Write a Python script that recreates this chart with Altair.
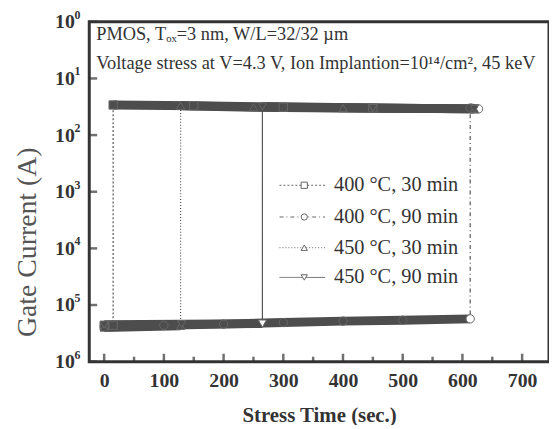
import altair as alt
import pandas as pd

# ---------------- data ----------------
names = ["400 °C, 30 min", "400 °C, 90 min", "450 °C, 30 min", "450 °C, 90 min"]

a_t = [0, 15, 15, 150, 300, 450, 620]
a_i = [4.3e-6, 4.4e-6, 3.4e-2, 3.3e-2, 3.1e-2, 3.0e-2, 2.9e-2]
a_p = ["pre", "pre", "post", "post", "post", "post", "post"]

b_t = [0, 100, 200, 300, 400, 500, 613, 613, 627]
b_i = [4.2e-6, 4.4e-6, 4.6e-6, 4.9e-6, 5.2e-6, 5.4e-6, 5.7e-6, 3.0e-2, 2.9e-2]
b_p = ["pre"] * 7 + ["post"] * 2

c_t = [0, 128, 128, 250, 400, 620]
c_i = [4.0e-6, 4.3e-6, 3.3e-2, 3.1e-2, 3.0e-2, 2.9e-2]
c_p = ["pre", "pre", "post", "post", "post", "post"]

d_t = [0, 130, 265, 265, 450, 620]
d_i = [4.5e-6, 4.6e-6, 4.7e-6, 3.2e-2, 3.0e-2, 2.9e-2]
d_p = ["pre", "pre", "pre", "post", "post", "post"]

# markers that stand out (open, white) in the picture: (series, time, phase)
open_marks = [("400 °C, 90 min", 613, "pre"), ("400 °C, 90 min", 627, "post"),
              ("450 °C, 90 min", 265, "pre")]

x_major = [0, 100, 200, 300, 400, 500, 600, 700]
x_minor = [50, 150, 250, 350, 450, 550, 650]
y_ticks = [1e-6, 1e-5, 1e-4, 1e-3, 1e-2, 1e-1, 1e0]
y_exp = ["6", "5", "4", "3", "2", "1", "0"]   # exponents as printed on the scan

line1 = "PMOS, Tₒₓ=3 nm, W/L=32/32 µm"
line2 = "Voltage stress at V=4.3 V, Ion Implantion=10¹⁴/cm², 45 keV"

rows = []
for nm, ts, cs, ps in zip(names, [a_t, b_t, c_t, d_t], [a_i, b_i, c_i, d_i], [a_p, b_p, c_p, d_p]):
    for k, (t, c, p) in enumerate(zip(ts, cs, ps)):
        rows.append({"t": t, "I": c, "series": nm, "seg": nm + p, "idx": k,
                     "open": "yes" if (nm, t, p) in open_marks else "no"})
df = pd.DataFrame(rows)

shapes = ["square", "circle", "triangle-up", "triangle-down"]
dashes = [[2, 2], [4, 3, 1, 3], [1, 2], [1, 0]]

W, H = 464, 343
TOP = 12
FONT = "Liberation Serif"
INK = "#333333"
BAND = "#4d4d4d"

xs = alt.Scale(domain=[-25, 745], nice=False, zero=False)
ys = alt.Scale(type="log", domain=[1e-6, 1], nice=False)

x_enc = alt.X("t:Q", scale=xs,
              axis=alt.Axis(values=x_major, title="Stress Time (sec.)", tickSize=0,
                            domain=False, grid=False, labelPadding=9, titlePadding=14))
y_enc = alt.Y("I:Q", scale=ys,
              axis=alt.Axis(values=y_ticks, title="Gate Current (A)", tickSize=0,
                            domain=False, grid=False, labelPadding=15,
                            labelExpr="'10'", titleX=-62, titleY=222,
                            titleAlign="center", titleBaseline="middle", titleAngle=270))

thin = alt.Chart(df).mark_line(strokeWidth=1.2, color="#555555").encode(
    x=x_enc, y=y_enc, detail="series:N", order="idx:Q",
    strokeDash=alt.StrokeDash("series:N", scale=alt.Scale(domain=names, range=dashes), legend=None),
)
band = alt.Chart(df).mark_line(strokeWidth=9, color=BAND, strokeCap="butt").encode(
    x=alt.X("t:Q", scale=xs), y=alt.Y("I:Q", scale=ys), detail="seg:N", order="idx:Q",
)
pts = alt.Chart(df).mark_point(filled=True, stroke="#666666", strokeWidth=1, size=70, opacity=1).encode(
    x=alt.X("t:Q", scale=xs), y=alt.Y("I:Q", scale=ys),
    shape=alt.Shape("series:N", scale=alt.Scale(domain=names, range=shapes), legend=None),
    fill=alt.Fill("open:N", scale=alt.Scale(domain=["yes", "no"], range=["white", BAND]), legend=None),
)

tick_major = alt.Chart(pd.DataFrame({"t": x_major})).mark_tick(
    orient="vertical", size=8, thickness=2.5, color=INK).encode(
    x=alt.X("t:Q", scale=xs), y=alt.value(H - 4))
tick_minor = alt.Chart(pd.DataFrame({"t": x_minor})).mark_tick(
    orient="vertical", size=5, thickness=2.5, color=INK).encode(
    x=alt.X("t:Q", scale=xs), y=alt.value(H - 2.5))
tick_y = alt.Chart(pd.DataFrame({"I": y_ticks})).mark_tick(
    orient="horizontal", size=8, thickness=2.5, color=INK).encode(
    y=alt.Y("I:Q", scale=ys), x=alt.value(4))

exp_txt = alt.Chart(pd.DataFrame({"I": y_ticks, "e": y_exp})).mark_text(
    align="left", baseline="middle", font=FONT, fontSize=12, fontWeight="bold", color=INK, dy=-7).encode(
    y=alt.Y("I:Q", scale=ys), x=alt.value(-15), text="e:N")

ann1 = alt.Chart(pd.DataFrame({"a": [0]})).mark_text(
    text=line1, align="left", baseline="alphabetic", font=FONT, fontSize=18.5, color=INK).encode(
    x=alt.value(7), y=alt.value(18))
ann2 = alt.Chart(pd.DataFrame({"a": [0]})).mark_text(
    text=line2, align="left", baseline="alphabetic", font=FONT, fontSize=18.5, color=INK).encode(
    x=alt.value(7), y=alt.value(48))

legend_layers = []
leg_y = [165, 197, 228, 258]
for nm, shp, dsh, yy in zip(names, shapes, dashes, leg_y):
    legend_layers.append(alt.Chart(pd.DataFrame({"a": [0]})).mark_rule(
        strokeWidth=1, color="#666666", strokeDash=dsh).encode(
        x=alt.value(192), x2=alt.value(238), y=alt.value(yy)))
    legend_layers.append(alt.Chart(pd.DataFrame({"a": [0]})).mark_point(
        shape=shp, filled=True, fill="white", stroke="#666666", strokeWidth=1, size=40, opacity=1).encode(
        x=alt.value(217), y=alt.value(yy)))
    legend_layers.append(alt.Chart(pd.DataFrame({"a": [0]})).mark_text(
        text=nm, align="left", baseline="middle", font=FONT, fontSize=20.5, color=INK).encode(
        x=alt.value(247), y=alt.value(yy)))

chart = alt.layer(thin, band, pts, tick_major, tick_minor, tick_y, exp_txt, ann1, ann2,
                  *legend_layers).properties(
    width=W, height=H,
    autosize=alt.AutoSizeParams(type="none"),
    padding={"left": 82, "top": TOP, "right": 0, "bottom": 62},
).configure_view(stroke=INK, strokeWidth=3).configure_axis(
    labelFont=FONT, titleFont=FONT, labelColor=INK, titleColor=INK,
    labelFontSize=20, labelFontWeight="bold", titleFontSize=21, titleFontWeight="bold",
).configure_axisY(titleFontWeight="normal", titleFontSize=28, titleColor="#555555")

chart.save("out.html", embed_options={"renderer": "svg", "actions": False})
